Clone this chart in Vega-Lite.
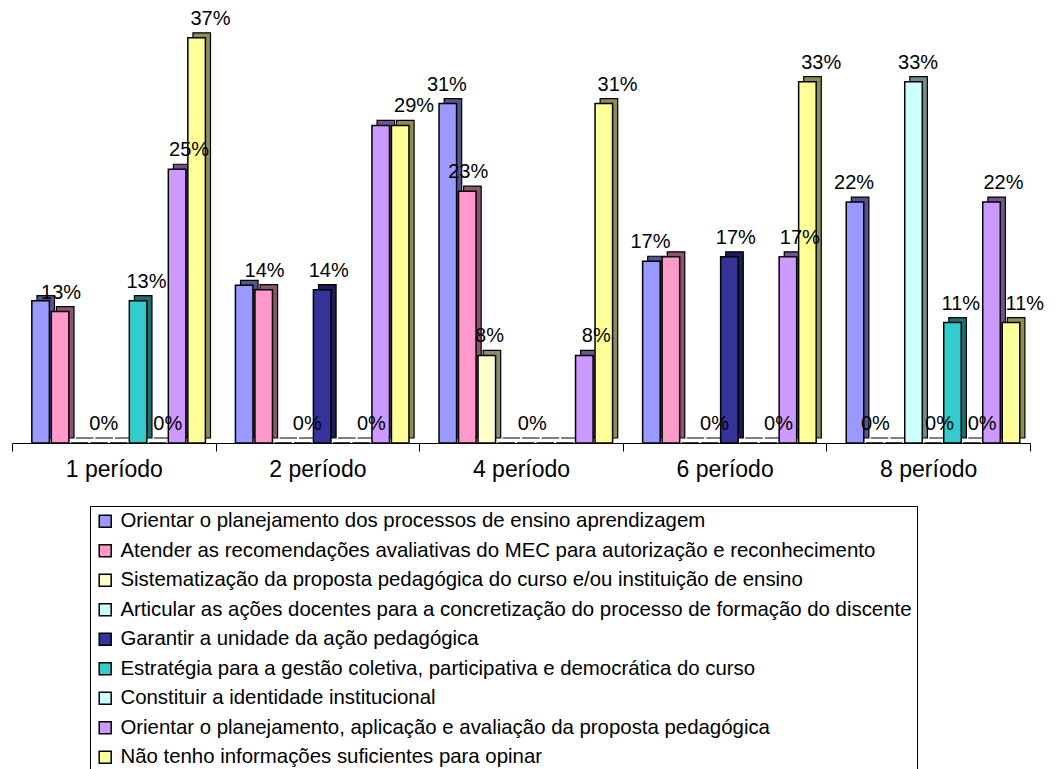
{
  "$schema": "https://vega.github.io/schema/vega-lite/v6.json",
  "autosize": {"type": "none"},
  "width": 1018,
  "height": 438,
  "padding": {"left": 12, "top": 5, "right": 27, "bottom": 326},
  "background": "white",
  "config": {
    "view": {"stroke": null},
    "font": "Liberation Sans",
    "text": {"font": "Liberation Sans"}
  },
  "data": {
    "values": [
      {"periodo": "1 período", "serie": "Orientar o planejamento dos processos de ensino aprendizagem", "valor": 13, "rotulo": ""},
      {"periodo": "1 período", "serie": "Atender as recomendações avaliativas do MEC para autorização e reconhecimento", "valor": 12, "rotulo": "13%"},
      {"periodo": "1 período", "serie": "Sistematização da proposta pedagógica do curso e/ou instituição de ensino", "valor": 0, "rotulo": ""},
      {"periodo": "1 período", "serie": "Articular as ações docentes para a concretização do processo de formação do discente", "valor": 0, "rotulo": "0%"},
      {"periodo": "1 período", "serie": "Garantir a unidade da ação pedagógica", "valor": 0, "rotulo": ""},
      {"periodo": "1 período", "serie": "Estratégia para a gestão coletiva, participativa e democrática do curso", "valor": 13, "rotulo": "13%"},
      {"periodo": "1 período", "serie": "Constituir a identidade institucional", "valor": 0, "rotulo": "0%"},
      {"periodo": "1 período", "serie": "Orientar o planejamento, aplicação e avaliação da proposta pedagógica", "valor": 25, "rotulo": "25%"},
      {"periodo": "1 período", "serie": "Não tenho informações suficientes para opinar", "valor": 37, "rotulo": "37%"},

      {"periodo": "2 período", "serie": "Orientar o planejamento dos processos de ensino aprendizagem", "valor": 14.4, "rotulo": ""},
      {"periodo": "2 período", "serie": "Atender as recomendações avaliativas do MEC para autorização e reconhecimento", "valor": 14, "rotulo": "14%"},
      {"periodo": "2 período", "serie": "Sistematização da proposta pedagógica do curso e/ou instituição de ensino", "valor": 0, "rotulo": ""},
      {"periodo": "2 período", "serie": "Articular as ações docentes para a concretização do processo de formação do discente", "valor": 0, "rotulo": "0%"},
      {"periodo": "2 período", "serie": "Garantir a unidade da ação pedagógica", "valor": 14, "rotulo": "14%"},
      {"periodo": "2 período", "serie": "Estratégia para a gestão coletiva, participativa e democrática do curso", "valor": 0, "rotulo": ""},
      {"periodo": "2 período", "serie": "Constituir a identidade institucional", "valor": 0, "rotulo": "0%"},
      {"periodo": "2 período", "serie": "Orientar o planejamento, aplicação e avaliação da proposta pedagógica", "valor": 29, "rotulo": ""},
      {"periodo": "2 período", "serie": "Não tenho informações suficientes para opinar", "valor": 29, "rotulo": "29%"},

      {"periodo": "4 período", "serie": "Orientar o planejamento dos processos de ensino aprendizagem", "valor": 31, "rotulo": "31%"},
      {"periodo": "4 período", "serie": "Atender as recomendações avaliativas do MEC para autorização e reconhecimento", "valor": 23, "rotulo": "23%"},
      {"periodo": "4 período", "serie": "Sistematização da proposta pedagógica do curso e/ou instituição de ensino", "valor": 8, "rotulo": "8%"},
      {"periodo": "4 período", "serie": "Articular as ações docentes para a concretização do processo de formação do discente", "valor": 0, "rotulo": ""},
      {"periodo": "4 período", "serie": "Garantir a unidade da ação pedagógica", "valor": 0, "rotulo": "0%"},
      {"periodo": "4 período", "serie": "Estratégia para a gestão coletiva, participativa e democrática do curso", "valor": 0, "rotulo": ""},
      {"periodo": "4 período", "serie": "Constituir a identidade institucional", "valor": 0, "rotulo": ""},
      {"periodo": "4 período", "serie": "Orientar o planejamento, aplicação e avaliação da proposta pedagógica", "valor": 8, "rotulo": "8%"},
      {"periodo": "4 período", "serie": "Não tenho informações suficientes para opinar", "valor": 31, "rotulo": "31%"},

      {"periodo": "6 período", "serie": "Orientar o planejamento dos processos de ensino aprendizagem", "valor": 16.6, "rotulo": "17%"},
      {"periodo": "6 período", "serie": "Atender as recomendações avaliativas do MEC para autorização e reconhecimento", "valor": 17, "rotulo": ""},
      {"periodo": "6 período", "serie": "Sistematização da proposta pedagógica do curso e/ou instituição de ensino", "valor": 0, "rotulo": ""},
      {"periodo": "6 período", "serie": "Articular as ações docentes para a concretização do processo de formação do discente", "valor": 0, "rotulo": "0%"},
      {"periodo": "6 período", "serie": "Garantir a unidade da ação pedagógica", "valor": 17, "rotulo": "17%"},
      {"periodo": "6 período", "serie": "Estratégia para a gestão coletiva, participativa e democrática do curso", "valor": 0, "rotulo": ""},
      {"periodo": "6 período", "serie": "Constituir a identidade institucional", "valor": 0, "rotulo": "0%"},
      {"periodo": "6 período", "serie": "Orientar o planejamento, aplicação e avaliação da proposta pedagógica", "valor": 17, "rotulo": "17%"},
      {"periodo": "6 período", "serie": "Não tenho informações suficientes para opinar", "valor": 33, "rotulo": "33%"},

      {"periodo": "8 período", "serie": "Orientar o planejamento dos processos de ensino aprendizagem", "valor": 22, "rotulo": "22%"},
      {"periodo": "8 período", "serie": "Atender as recomendações avaliativas do MEC para autorização e reconhecimento", "valor": 0, "rotulo": "0%"},
      {"periodo": "8 período", "serie": "Sistematização da proposta pedagógica do curso e/ou instituição de ensino", "valor": 0, "rotulo": ""},
      {"periodo": "8 período", "serie": "Articular as ações docentes para a concretização do processo de formação do discente", "valor": 33, "rotulo": "33%"},
      {"periodo": "8 período", "serie": "Garantir a unidade da ação pedagógica", "valor": 0, "rotulo": "0%"},
      {"periodo": "8 período", "serie": "Estratégia para a gestão coletiva, participativa e democrática do curso", "valor": 11, "rotulo": "11%"},
      {"periodo": "8 período", "serie": "Constituir a identidade institucional", "valor": 0, "rotulo": "0%"},
      {"periodo": "8 período", "serie": "Orientar o planejamento, aplicação e avaliação da proposta pedagógica", "valor": 22, "rotulo": "22%"},
      {"periodo": "8 período", "serie": "Não tenho informações suficientes para opinar", "valor": 11, "rotulo": "11%"}
    ]
  },
  "resolve": {"scale": {"xOffset": "independent"}},
  "encoding": {
    "x": {
      "field": "periodo",
      "type": "nominal",
      "sort": null,
      "title": null,
      "scale": {"paddingInner": 0, "paddingOuter": 0},
      "axis": {
        "labelAngle": 0,
        "labelFontSize": 23,
        "labelColor": "black",
        "labelFont": "Liberation Sans",
        "labelPadding": 7,
        "tickBand": "extent",
        "tickSize": 8,
        "tickColor": "black",
        "domainColor": "black",
        "grid": false
      }
    },
    "xOffset": {
      "field": "serie",
      "type": "nominal",
      "sort": null,
      "scale": {"paddingInner": 0.1, "paddingOuter": 0.77, "align": 0.66}
    },
    "y": {
      "field": "valor",
      "type": "quantitative",
      "scale": {"domain": [0, 40], "nice": false},
      "axis": null
    }
  },
  "layer": [
    {
      "mark": {"type": "bar", "yOffset": -5, "y2Offset": -5, "stroke": "black", "strokeWidth": 1.2},
      "encoding": {
        "xOffset": {"field": "serie", "type": "nominal", "sort": null, "scale": {"paddingInner": 0.1, "paddingOuter": 0.77, "align": 0.83}},
        "color": {"field": "serie", "type": "nominal", "sort": null}
      }
    },
    {
      "mark": {"type": "bar", "yOffset": -5, "y2Offset": -5, "fill": "black", "fillOpacity": 0.45, "strokeOpacity": 0},
      "encoding": {
        "xOffset": {"field": "serie", "type": "nominal", "sort": null, "scale": {"paddingInner": 0.1, "paddingOuter": 0.77, "align": 0.83}}
      }
    },
    {
      "mark": {"type": "bar", "stroke": "black", "strokeWidth": 1.5, "fillOpacity": 1},
      "encoding": {
        "color": {
          "field": "serie",
          "type": "nominal",
          "sort": null,
          "scale": {
            "domain": [
              "Orientar o planejamento dos processos de ensino aprendizagem",
              "Atender as recomendações avaliativas do MEC para autorização e reconhecimento",
              "Sistematização da proposta pedagógica do curso e/ou instituição de ensino",
              "Articular as ações docentes para a concretização do processo de formação do discente",
              "Garantir a unidade da ação pedagógica",
              "Estratégia para a gestão coletiva, participativa e democrática do curso",
              "Constituir a identidade institucional",
              "Orientar o planejamento, aplicação e avaliação da proposta pedagógica",
              "Não tenho informações suficientes para opinar"
            ],
            "range": ["#9999FF", "#FF99CC", "#FFFFCC", "#CCFFFF", "#333399", "#33CCCC", "#CCFFFF", "#CC99FF", "#FFFF99"]
          },
          "legend": {
            "title": null,
            "orient": "none",
            "legendX": 78,
            "legendY": 501,
            "direction": "vertical",
            "symbolType": "square",
            "symbolSize": 144,
            "symbolStrokeColor": "black",
            "symbolStrokeWidth": 1.5,
            "symbolOpacity": 1,
            "labelFont": "Liberation Sans",
            "labelFontSize": 20.4,
            "labelColor": "black",
            "labelLimit": 1000,
            "labelOffset": 5,
            "rowPadding": 8.5,
            "padding": 5,
            "strokeColor": "black",
            "fillColor": "white"
          }
        }
      }
    },
    {
      "mark": {"type": "text", "baseline": "alphabetic", "dy": -13, "dx": 6, "fontSize": 20, "color": "black", "font": "Liberation Sans"},
      "encoding": {
        "text": {"field": "rotulo", "type": "nominal"}
      }
    }
  ]
}
